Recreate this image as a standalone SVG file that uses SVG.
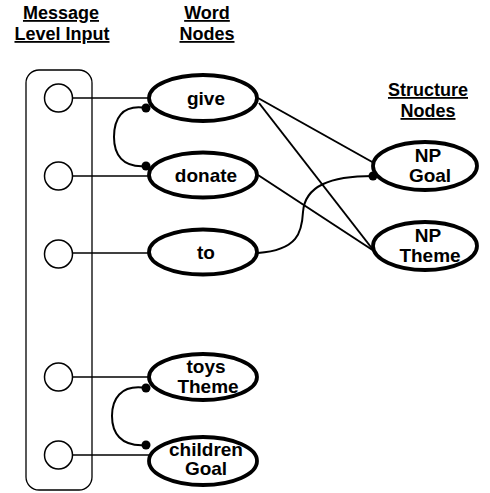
<svg xmlns="http://www.w3.org/2000/svg" width="490" height="493" viewBox="0 0 490 493">
<style>
.hdr{font-family:"Liberation Sans",Arial,sans-serif;font-weight:bold;font-size:18px;text-anchor:middle;text-decoration:underline;fill:#000}
.lbl{font-family:"Liberation Sans",Arial,sans-serif;font-weight:bold;font-size:19px;text-anchor:middle;fill:#000}
.node{fill:#fff;stroke:#000;stroke-width:3.8}
.in{fill:#fff;stroke:#000;stroke-width:1.5}
.c{fill:none;stroke:#000;stroke-width:2}
.h{fill:none;stroke:#000;stroke-width:1.6}
.dot{fill:#000}
</style>
<rect width="490" height="493" fill="#fff"/>
<g id="headers">
<text class="hdr" x="61" y="19">Message</text>
<text class="hdr" x="62" y="40">Level Input</text>
<text class="hdr" x="207" y="19">Word</text>
<text class="hdr" x="207" y="40">Nodes</text>
<text class="hdr" x="428" y="96">Structure</text>
<text class="hdr" x="428" y="117">Nodes</text>
</g>
<g id="input-box">
<rect x="26" y="70" width="66" height="420" rx="13" ry="13" fill="none" stroke="#000" stroke-width="1.3"/>
</g>
<g id="connectors">
<line class="h" x1="73" y1="98" x2="149" y2="98"/>
<line class="h" x1="73" y1="176" x2="149" y2="176"/>
<line class="h" x1="73" y1="253" x2="149" y2="253"/>
<line class="h" x1="73" y1="377" x2="149" y2="377"/>
<line class="h" x1="73" y1="455" x2="150" y2="455"/>
<line class="c" x1="258" y1="98" x2="374" y2="163"/>
<line class="c" x1="259" y1="103" x2="374" y2="251"/>
<line class="c" x1="258" y1="175" x2="374" y2="251"/>
<path class="c" d="M258,253 C298,250 302,232 303,212 C305,186 330,176 373,176"/>
<path class="c" d="M146,108 C121,104 114,120 114,137 C114,154 122,168 146,166"/>
<path class="c" d="M146,388 C120,384 112,400 112,416 C112,432 120,447 146,445"/>
<circle class="dot" cx="146" cy="108" r="4.5"/>
<circle class="dot" cx="146" cy="166" r="4.5"/>
<circle class="dot" cx="373" cy="176" r="4.5"/>
<circle class="dot" cx="146" cy="388" r="4.5"/>
<circle class="dot" cx="146" cy="445" r="4.5"/>
</g>
<g id="in1"><circle class="in" cx="58.5" cy="98" r="14"/></g>
<g id="in2"><circle class="in" cx="58.5" cy="176" r="14"/></g>
<g id="in3"><circle class="in" cx="58.5" cy="254" r="14"/></g>
<g id="in4"><circle class="in" cx="58.5" cy="377" r="14"/></g>
<g id="in5"><circle class="in" cx="58.5" cy="455" r="14"/></g>
<g id="give"><ellipse class="node" cx="203" cy="98" rx="54" ry="23"/><text class="lbl" x="206" y="105">give</text></g>
<g id="donate"><ellipse class="node" cx="203" cy="175" rx="54" ry="22.5"/><text class="lbl" x="206" y="182">donate</text></g>
<g id="to"><ellipse class="node" cx="203" cy="252" rx="54" ry="22.5"/><text class="lbl" x="206" y="259">to</text></g>
<g id="np-goal"><ellipse class="node" cx="425" cy="166" rx="52" ry="24"/><text class="lbl" x="428" y="162">NP</text><text class="lbl" x="430" y="182">Goal</text></g>
<g id="np-theme"><ellipse class="node" cx="425" cy="246" rx="52" ry="24"/><text class="lbl" x="428" y="242">NP</text><text class="lbl" x="430" y="262">Theme</text></g>
<g id="toys-theme"><ellipse class="node" cx="203" cy="377" rx="54" ry="23"/><text class="lbl" x="206" y="373">toys</text><text class="lbl" x="208" y="393">Theme</text></g>
<g id="children-goal"><ellipse class="node" cx="203" cy="461" rx="54" ry="24"/><text class="lbl" x="206" y="456">children</text><text class="lbl" x="206" y="475">Goal</text></g>
</svg>
